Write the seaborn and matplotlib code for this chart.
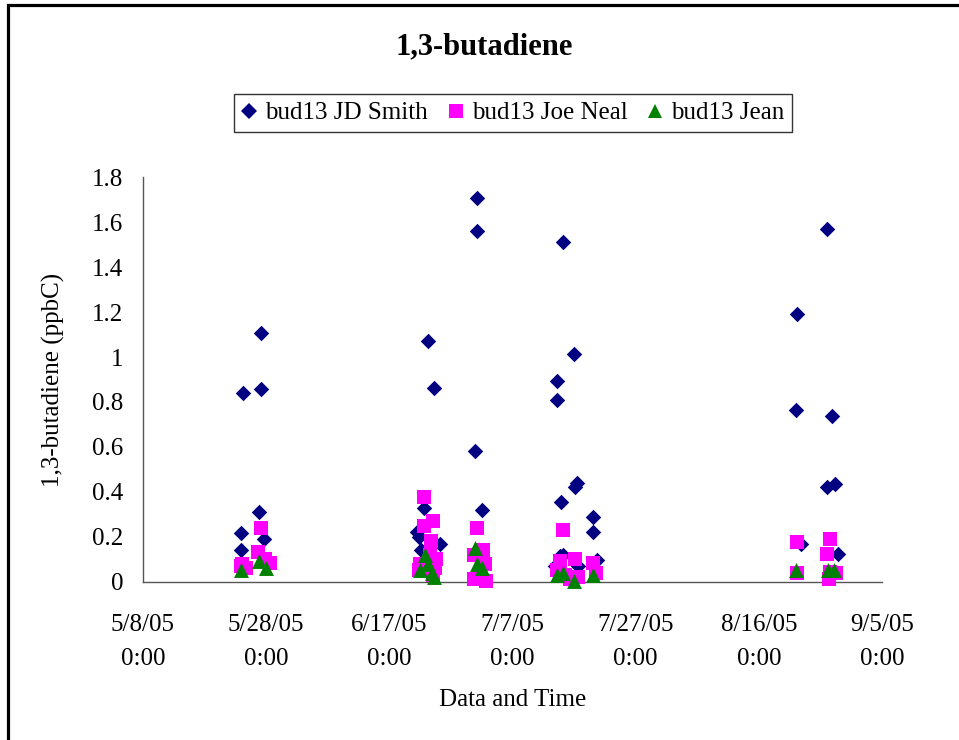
import matplotlib
matplotlib.use("Agg")
import matplotlib.pyplot as plt
from matplotlib.lines import Line2D
from matplotlib.patches import Rectangle
import seaborn as sns
import pandas as pd

# ---------------- data ----------------
title = "1,3-butadiene"
x_label = "Data and Time"
y_label = "1,3-butadiene (ppbC)"
series_names = ["bud13 JD Smith", "bud13 Joe Neal", "bud13 Jean"]

jd_times = [
    "2005-05-24 06:00", "2005-05-23 22:00", "2005-05-23 22:00",
    "2005-05-27 04:00", "2005-05-27 04:00", "2005-05-26 20:00", "2005-05-27 16:00",
    "2005-06-21 12:00", "2005-06-21 20:00", "2005-06-22 03:00", "2005-06-22 15:00",
    "2005-06-23 07:00", "2005-06-24 06:00", "2005-06-25 06:00", "2005-06-22 19:00",
    "2005-06-23 15:00",
    "2005-06-30 22:00", "2005-07-01 06:00", "2005-07-01 06:00", "2005-07-02 01:00",
    "2005-07-01 13:00",
    "2005-07-14 06:00", "2005-07-14 06:00", "2005-07-14 21:00", "2005-07-15 05:00",
    "2005-07-14 17:00", "2005-07-15 05:00", "2005-07-13 22:00", "2005-07-17 00:00",
    "2005-07-17 04:00", "2005-07-17 12:00", "2005-07-17 15:00", "2005-07-20 02:00",
    "2005-07-20 02:00", "2005-07-20 18:00",
    "2005-08-22 01:00", "2005-08-22 05:00", "2005-08-22 21:00", "2005-08-27 02:00",
    "2005-08-27 02:00", "2005-08-27 22:00", "2005-08-28 10:00", "2005-08-28 21:00",
]
jd_values = [
    0.84, 0.215, 0.14,
    1.107, 0.857, 0.31, 0.19,
    0.22, 0.20, 0.14, 0.33,
    1.07, 0.86, 0.17, 0.10,
    0.06,
    0.58, 1.71, 1.5625, 0.317,
    0.12,
    0.893, 0.808, 0.353, 1.513,
    0.115, 0.12, 0.07, 1.013,
    0.42, 0.44, 0.07, 0.286,
    0.223, 0.097,
    0.763, 1.19, 0.17, 1.571,
    0.42, 0.737, 0.433, 0.125,
]

neal_times = [
    "2005-05-24 02:00", "2005-05-24 18:00", "2005-05-27 04:00", "2005-05-26 16:00",
    "2005-05-27 19:00", "2005-05-28 15:00", "2005-05-23 22:00",
    "2005-06-22 15:00", "2005-06-24 02:00", "2005-06-22 15:00", "2005-06-23 18:00",
    "2005-06-23 15:00", "2005-06-22 00:00", "2005-06-24 14:00", "2005-06-24 10:00",
    "2005-06-24 02:00", "2005-06-21 20:00",
    "2005-07-01 06:00", "2005-07-02 05:00", "2005-06-30 18:00", "2005-07-02 13:00",
    "2005-07-01 17:00", "2005-06-30 18:00", "2005-07-02 17:00",
    "2005-07-15 05:00", "2005-07-17 04:00", "2005-07-14 17:00", "2005-07-20 02:00",
    "2005-07-14 06:00", "2005-07-15 13:00", "2005-07-17 15:00", "2005-07-20 14:00",
    "2005-07-16 08:00",
    "2005-08-22 05:00", "2005-08-27 14:00", "2005-08-27 02:00", "2005-08-22 05:00",
    "2005-08-27 14:00", "2005-08-28 13:00", "2005-08-27 10:00",
]
neal_values = [
    0.08, 0.06, 0.237, 0.13,
    0.10, 0.085, 0.07,
    0.375, 0.27, 0.25, 0.18,
    0.12, 0.08, 0.10, 0.06,
    0.03, 0.05,
    0.237, 0.14, 0.12, 0.08,
    0.02, 0.01, 0.005,
    0.232, 0.10, 0.09, 0.085,
    0.05, 0.03, 0.02, 0.04,
    0.01,
    0.175, 0.19, 0.125, 0.04,
    0.045, 0.04, 0.01,
]

jean_times = [
    "2005-05-23 22:00", "2005-05-26 20:00", "2005-05-28 00:00",
    "2005-06-22 19:00", "2005-06-23 07:00", "2005-06-22 00:00", "2005-06-23 22:00",
    "2005-06-24 06:00",
    "2005-06-30 22:00", "2005-07-01 06:00", "2005-07-02 01:00",
    "2005-07-14 06:00", "2005-07-15 05:00", "2005-07-17 00:00", "2005-07-20 02:00",
    "2005-08-22 01:00", "2005-08-27 06:00", "2005-08-28 06:00",
]
jean_values = [
    0.05, 0.09, 0.06,
    0.12, 0.08, 0.05, 0.04,
    0.02,
    0.15, 0.08, 0.06,
    0.03, 0.04, 0.005, 0.03,
    0.05, 0.05, 0.05,
]

x_tick_dates = ["2005-05-08", "2005-05-28", "2005-06-17", "2005-07-07",
                "2005-07-27", "2005-08-16", "2005-09-05"]
y_ticks = [0, 0.2, 0.4, 0.6, 0.8, 1.0, 1.2, 1.4, 1.6, 1.8]

# ---------------- style ----------------
sns.set_theme(style="white")
plt.rcParams["font.family"] = ["Liberation Serif", "DejaVu Serif"]
plt.rcParams["axes.unicode_minus"] = False
plt.rcParams["text.color"] = "black"
plt.rcParams["axes.labelcolor"] = "black"
plt.rcParams["xtick.color"] = "black"
plt.rcParams["ytick.color"] = "black"

colors = ["#000080", "#FF00FF", "#008000"]
markers = ["D", "s", "^"]
sizes = [62, 90, 115]

fig = plt.figure(figsize=(9.59, 7.40), dpi=100)
ax = fig.add_axes([143 / 959, 1 - 581.7 / 740, (882 - 143) / 959, (581.7 - 177.3) / 740])

series = [
    (jd_times, jd_values),
    (neal_times, neal_values),
    (jean_times, jean_values),
]
for (times, vals), name, c, m, s in zip(series, series_names, colors, markers, sizes):
    df = pd.DataFrame({"time": pd.to_datetime(times), "value": vals})
    sns.scatterplot(data=df, x="time", y="value", ax=ax, color=c, marker=m,
                    s=s, linewidth=0, clip_on=False, zorder=3, legend=False)

tick_dts = pd.to_datetime(x_tick_dates)
ax.set_xlim(tick_dts[0], tick_dts[-1])
ax.set_xticks(tick_dts)
ax.set_xticklabels([f"{d.month}/{d.day}/{d:%y}\n{d.hour}:{d:%M}" for d in tick_dts])
ax.set_ylim(y_ticks[0], y_ticks[-1])
ax.set_yticks(y_ticks)
ax.set_yticklabels([f"{v:g}" for v in y_ticks])

for t in ax.get_xticklabels():
    t.set_linespacing(1.75)

ax.tick_params(axis="both", labelsize=18, labelcolor="black", direction="out")
ax.tick_params(axis="y", length=5, width=1, color="#555555", pad=9)
ax.tick_params(axis="x", length=6, width=1, color="#555555", pad=17)

for side in ["top", "right"]:
    ax.spines[side].set_visible(False)
for side in ["left", "bottom"]:
    ax.spines[side].set_color("#555555")
    ax.spines[side].set_linewidth(1.0)

ax.set_xlabel(x_label, fontsize=18, color="black")
ax.set_ylabel(y_label, fontsize=18, color="black")
ax.xaxis.set_label_coords(0.5, -0.265)
ax.yaxis.set_label_coords(-0.106, 0.5)

fig.text(484 / 959, 1 - 47 / 740, title, ha="center", va="center",
         fontsize=22, fontweight="bold", color="black")

handles = [Line2D([0], [0], marker=m, color="none", markerfacecolor=c,
                  markeredgewidth=0, markersize=ms)
           for c, m, ms in zip(colors, markers, [8.5, 9.5, 10.5])]
leg = fig.legend(handles, series_names, loc="center", ncol=3,
                 bbox_to_anchor=(513 / 959, 1 - 113 / 740), fontsize=18,
                 frameon=True, fancybox=False, edgecolor="black",
                 handlelength=0.6, handletextpad=0.35, columnspacing=0.8,
                 borderpad=0.3, borderaxespad=0)
leg.get_frame().set_linewidth(1.0)
for txt in leg.get_texts():
    txt.set_color("black")

# chart-area border (left and top edges visible, right/bottom beyond canvas)
fig.patches.append(Rectangle((8 / 959, -0.2), 1.2, (1 - 5 / 740) + 0.2,
                             transform=fig.transFigure, fill=False,
                             edgecolor="black", linewidth=2.3, zorder=10))

fig.savefig("out.png", dpi=100)
